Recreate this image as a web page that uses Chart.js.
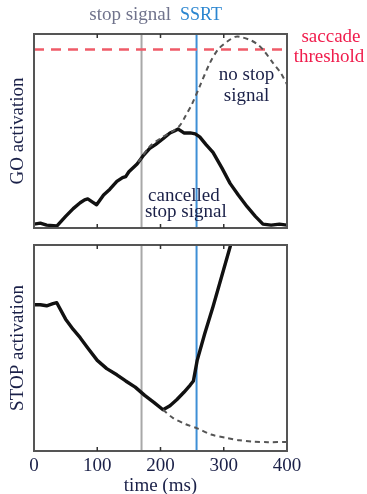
<!DOCTYPE html>
<html>
  <head>
    <title>Stop signal race</title>
    <script src="https://cdn.jsdelivr.net/npm/chart.js"></script>
    <style>
      body {
        margin: 0;
        background: #fff;
      }
      .panel {
        position: absolute;
        left: 0;
        width: 367px;
      }
      #goPanel {
        top: 0;
        height: 240px;
      }
      #stopPanel {
        top: 240px;
        height: 254px;
      }
    </style>
  </head>
  <body>
    <div class="panel" id="goPanel"><canvas id="goChart"></canvas></div>
    <div class="panel" id="stopPanel"><canvas id="stopChart"></canvas></div>

    <script>
      // time axis (ms)
      const xTicks = [0, 100, 200, 300, 400];
      const stopSignalTime = 170;
      const ssrtTime = 257;
      const saccadeThreshold = 0.92;

      // GO unit, cancelled trial (solid)
      const goCancelledTime = [0, 10, 20, 36, 50, 62, 73, 80, 85, 92, 99, 110, 120, 131, 140, 145, 150, 163, 172, 183, 192, 204, 215, 222, 228, 237, 247, 255, 262, 272, 283, 297, 310, 323, 337, 350, 362, 375, 388, 400];
      const goCancelled = [0.02, 0.025, 0.015, 0.01, 0.06, 0.1, 0.13, 0.145, 0.15, 0.135, 0.12, 0.17, 0.2, 0.24, 0.26, 0.265, 0.29, 0.33, 0.37, 0.41, 0.43, 0.46, 0.49, 0.5, 0.51, 0.49, 0.49, 0.485, 0.47, 0.43, 0.39, 0.31, 0.23, 0.17, 0.11, 0.06, 0.02, 0.015, 0.02, 0.015];

      // GO unit, no stop signal (dashed)
      const goNoStopTime = [165, 183, 204, 220, 231, 240, 250, 262, 278, 291, 305, 318, 326, 341, 352, 362, 378, 390, 400];
      const goNoStop = [0.34, 0.42, 0.47, 0.5, 0.53, 0.58, 0.64, 0.73, 0.85, 0.92, 0.96, 0.985, 0.985, 0.97, 0.95, 0.92, 0.85, 0.8, 0.74];

      // STOP unit, cancelled trial (solid)
      const stopCancelledTime = [0, 10, 20, 30, 36, 50, 62, 73, 85, 100, 115, 131, 145, 160, 175, 190, 204, 215, 226, 237, 247, 252, 258, 270, 283, 296, 310, 320];
      const stopCancelled = [0.71, 0.71, 0.705, 0.715, 0.72, 0.64, 0.59, 0.55, 0.5, 0.44, 0.4, 0.37, 0.34, 0.31, 0.27, 0.235, 0.2, 0.22, 0.25, 0.285, 0.32, 0.34, 0.44, 0.57, 0.7, 0.84, 0.99, 1.1];

      // STOP unit decay without GO interaction (dashed)
      const stopDecayTime = [204, 220, 240, 258, 280, 305, 325, 346, 370, 400];
      const stopDecay = [0.2, 0.16, 0.13, 0.11, 0.08, 0.063, 0.052, 0.045, 0.043, 0.044];

      const serif = "'Liberation Serif', 'Times New Roman', serif";
      const textColor = "#1a2048";

      function toPoints(xs, ys) {
        return xs.map((x, i) => ({ x: x, y: ys[i] }));
      }

      function solid(xs, ys) {
        return {
          data: toPoints(xs, ys),
          borderColor: "#111",
          borderWidth: 3.4,
          pointRadius: 0,
          tension: 0,
          borderJoinStyle: "round",
        };
      }

      function dashed(xs, ys) {
        return {
          data: toPoints(xs, ys),
          borderColor: "#555",
          borderWidth: 2,
          borderDash: [5, 4],
          pointRadius: 0,
          tension: 0.3,
        };
      }

      function vline(ctx, x, area, color) {
        ctx.save();
        ctx.strokeStyle = color;
        ctx.lineWidth = 2;
        ctx.beginPath();
        ctx.moveTo(x, area.top);
        ctx.lineTo(x, area.bottom);
        ctx.stroke();
        ctx.restore();
      }

      function frame(chart) {
        const { ctx, chartArea: a, scales } = chart;
        ctx.save();
        ctx.strokeStyle = "#555";
        ctx.lineWidth = 2;
        ctx.strokeRect(a.left, a.top, a.right - a.left, a.bottom - a.top);
        ctx.lineWidth = 1.5;
        ctx.strokeStyle = "#333";
        xTicks.slice(1, -1).forEach((t) => {
          const x = scales.x.getPixelForValue(t);
          ctx.beginPath();
          ctx.moveTo(x, a.top);
          ctx.lineTo(x, a.top + 4);
          ctx.moveTo(x, a.bottom);
          ctx.lineTo(x, a.bottom - 4);
          ctx.stroke();
        });
        ctx.restore();
      }

      function text(ctx, str, x, y, color, size) {
        ctx.fillStyle = color;
        ctx.font = size + "px " + serif;
        ctx.textAlign = "center";
        ctx.textBaseline = "middle";
        ctx.fillText(str, x, y);
      }

      function yLabel(chart, str) {
        const { ctx, chartArea: a } = chart;
        ctx.save();
        ctx.translate(18, (a.top + a.bottom) / 2);
        ctx.rotate(-Math.PI / 2);
        text(ctx, str, 0, 0, textColor, 19);
        ctx.restore();
      }

      const markers = {
        id: "markers",
        beforeDatasetsDraw(chart) {
          const { ctx, chartArea: a, scales } = chart;
          vline(ctx, scales.x.getPixelForValue(stopSignalTime), a, "#a8a8a8");
          vline(ctx, scales.x.getPixelForValue(ssrtTime), a, "#3d8fd6");
          if (chart.canvas.id === "goChart") {
            const y = scales.y.getPixelForValue(saccadeThreshold);
            ctx.save();
            ctx.strokeStyle = "#ef5b68";
            ctx.lineWidth = 2.5;
            ctx.setLineDash([10, 7]);
            ctx.beginPath();
            ctx.moveTo(a.left, y);
            ctx.lineTo(a.right, y);
            ctx.stroke();
            ctx.restore();
          }
        },
        afterDatasetsDraw(chart) {
          frame(chart);
        },
        afterDraw(chart) {
          const { ctx, chartArea: a, scales } = chart;
          const sx = scales.x;
          ctx.save();
          if (chart.canvas.id === "goChart") {
            text(ctx, "stop signal", sx.getPixelForValue(152), 15, "#70738c", 19);
            text(ctx, "SSRT", sx.getPixelForValue(264), 15, "#2b86d0", 18);
            text(ctx, "saccade", a.right + 44, 37, "#f01c4c", 19);
            text(ctx, "threshold", a.right + 42, 57, "#f01c4c", 19);
            text(ctx, "no stop", sx.getPixelForValue(336), 75, textColor, 19);
            text(ctx, "signal", sx.getPixelForValue(336), 96, textColor, 19);
            text(ctx, "cancelled", sx.getPixelForValue(237), 196, textColor, 19);
            text(ctx, "stop signal", sx.getPixelForValue(240), 212, textColor, 19);
            yLabel(chart, "GO activation");
          } else {
            yLabel(chart, "STOP activation");
          }
          ctx.restore();
        },
      };

      const yScale = { display: false, min: 0, max: 1 };

      new Chart(document.getElementById("goChart"), {
        type: "line",
        data: {
          datasets: [dashed(goNoStopTime, goNoStop), solid(goCancelledTime, goCancelled)],
        },
        options: {
          responsive: true,
          maintainAspectRatio: false,
          animation: false,
          layout: { padding: { left: 34, right: 80, top: 34, bottom: 12 } },
          plugins: { legend: { display: false }, tooltip: { enabled: false } },
          scales: {
            x: { type: "linear", display: false, min: 0, max: 400 },
            y: yScale,
          },
        },
        plugins: [markers],
      });

      new Chart(document.getElementById("stopChart"), {
        type: "line",
        data: {
          datasets: [dashed(stopDecayTime, stopDecay), solid(stopCancelledTime, stopCancelled)],
        },
        options: {
          responsive: true,
          maintainAspectRatio: false,
          animation: false,
          layout: { padding: { left: 34, right: 80, top: 5, bottom: 0 } },
          plugins: { legend: { display: false }, tooltip: { enabled: false } },
          scales: {
            x: {
              type: "linear",
              min: 0,
              max: 400,
              afterBuildTicks(scale) {
                scale.ticks = xTicks.map((v) => ({ value: v }));
              },
              afterFit(scale) {
                scale.height = 43;
              },
              grid: { display: false, drawTicks: false },
              border: { display: false },
              ticks: {
                padding: 4,
                color: textColor,
                font: { family: serif, size: 19 },
                maxRotation: 0,
              },
              title: {
                display: true,
                text: "time (ms)",
                color: textColor,
                font: { family: serif, size: 19, lineHeight: 0.8 },
                padding: 0,
              },
            },
            y: yScale,
          },
        },
        plugins: [markers],
      });
    </script>
  </body>
</html>
